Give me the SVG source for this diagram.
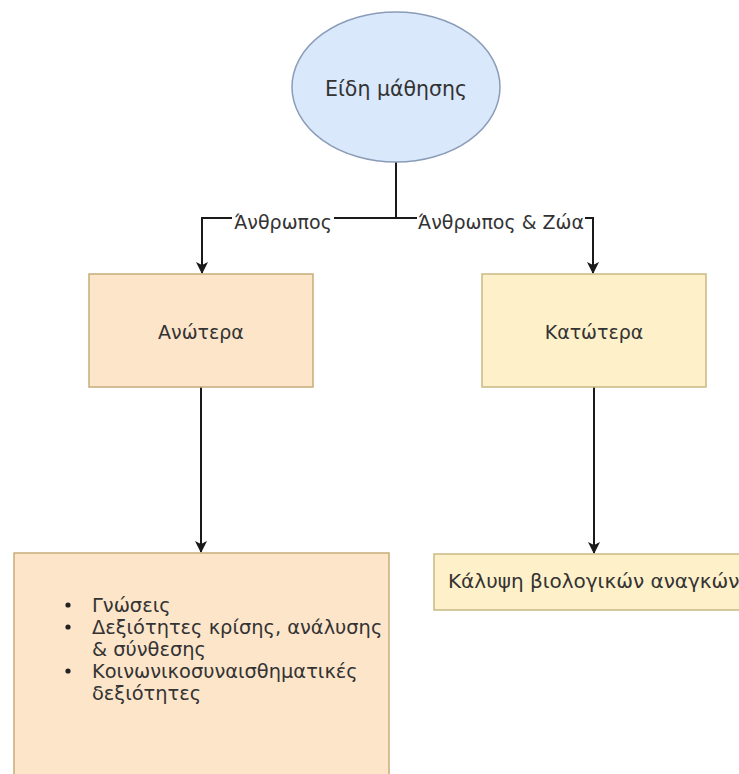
<svg xmlns="http://www.w3.org/2000/svg" width="739" height="774" viewBox="0 0 739 774">
  <style>
    text { font-family: "DejaVu Sans", "Liberation Sans", sans-serif; fill: #333; }
    .node-text { font-size: 19px; text-anchor: middle; }
    .title-text { font-size: 20.5px; text-anchor: middle; }
    .edge-label { font-size: 19px; text-anchor: middle; }
    .list-text { font-size: 19.4px; }
    .need-text { font-size: 20px; }
    .edge { fill: none; stroke: #1a1a1a; stroke-width: 2; }
    .upper { fill: #fde5ca; stroke: #c6ad7a; stroke-width: 1.5; }
    .lower { fill: #fef0c9; stroke: #c9b985; stroke-width: 1.5; }
  </style>
  <defs>
    <marker id="arrow" viewBox="0 0 12 12" refX="11" refY="6" markerWidth="12" markerHeight="12" markerUnits="userSpaceOnUse" orient="auto">
      <path d="M0,0 L12,6 L0,12 L3,6 z" fill="#1a1a1a"/>
    </marker>
  </defs>
  <rect width="739" height="774" fill="#ffffff"/>

  <g id="connectors">
    <path class="edge" d="M396,162 V218 H202 V273" marker-end="url(#arrow)"/>
    <path class="edge" d="M396,218 H593 V273" marker-end="url(#arrow)"/>
    <path class="edge" d="M201,387 V552" marker-end="url(#arrow)"/>
    <path class="edge" d="M594,387 V553" marker-end="url(#arrow)"/>
    <rect x="232" y="208" width="102" height="22" fill="#ffffff"/>
    <text class="edge-label" x="283" y="229">Άνθρωπος</text>
    <rect x="417" y="208" width="168" height="22" fill="#ffffff"/>
    <text class="edge-label" x="501" y="229">Άνθρωπος &amp; Ζώα</text>
  </g>

  <g id="types">
    <ellipse cx="396" cy="87" rx="104" ry="75" fill="#dae8fc" stroke="#8b9cb8" stroke-width="1.5"/>
    <text class="title-text" x="396" y="96">Είδη μάθησης</text>
  </g>

  <g id="higher">
    <rect class="upper" x="89" y="274" width="224" height="113"/>
    <text class="node-text" x="201" y="339">Ανώτερα</text>
  </g>

  <g id="lower">
    <rect class="lower" x="482" y="274" width="224" height="113"/>
    <text class="node-text" x="594" y="339">Κατώτερα</text>
  </g>

  <g id="higher-details">
    <rect class="upper" x="14" y="553" width="375" height="240"/>
    <circle cx="68" cy="605" r="2.6" fill="#222"/>
    <circle cx="68" cy="627" r="2.6" fill="#222"/>
    <circle cx="68" cy="671" r="2.6" fill="#222"/>
    <text class="list-text" x="92" y="612">Γνώσεις</text>
    <text class="list-text" x="92" y="634">Δεξιότητες κρίσης, ανάλυσης</text>
    <text class="list-text" x="92" y="656">&amp; σύνθεσης</text>
    <text class="list-text" x="92" y="678">Κοινωνικοσυναισθηματικές</text>
    <text class="list-text" x="92" y="700">δεξιότητες</text>
  </g>

  <g id="lower-details">
    <rect class="lower" x="434" y="554" width="320" height="56"/>
    <text class="need-text" x="448" y="588">Κάλυψη βιολογικών αναγκών</text>
  </g>
</svg>
